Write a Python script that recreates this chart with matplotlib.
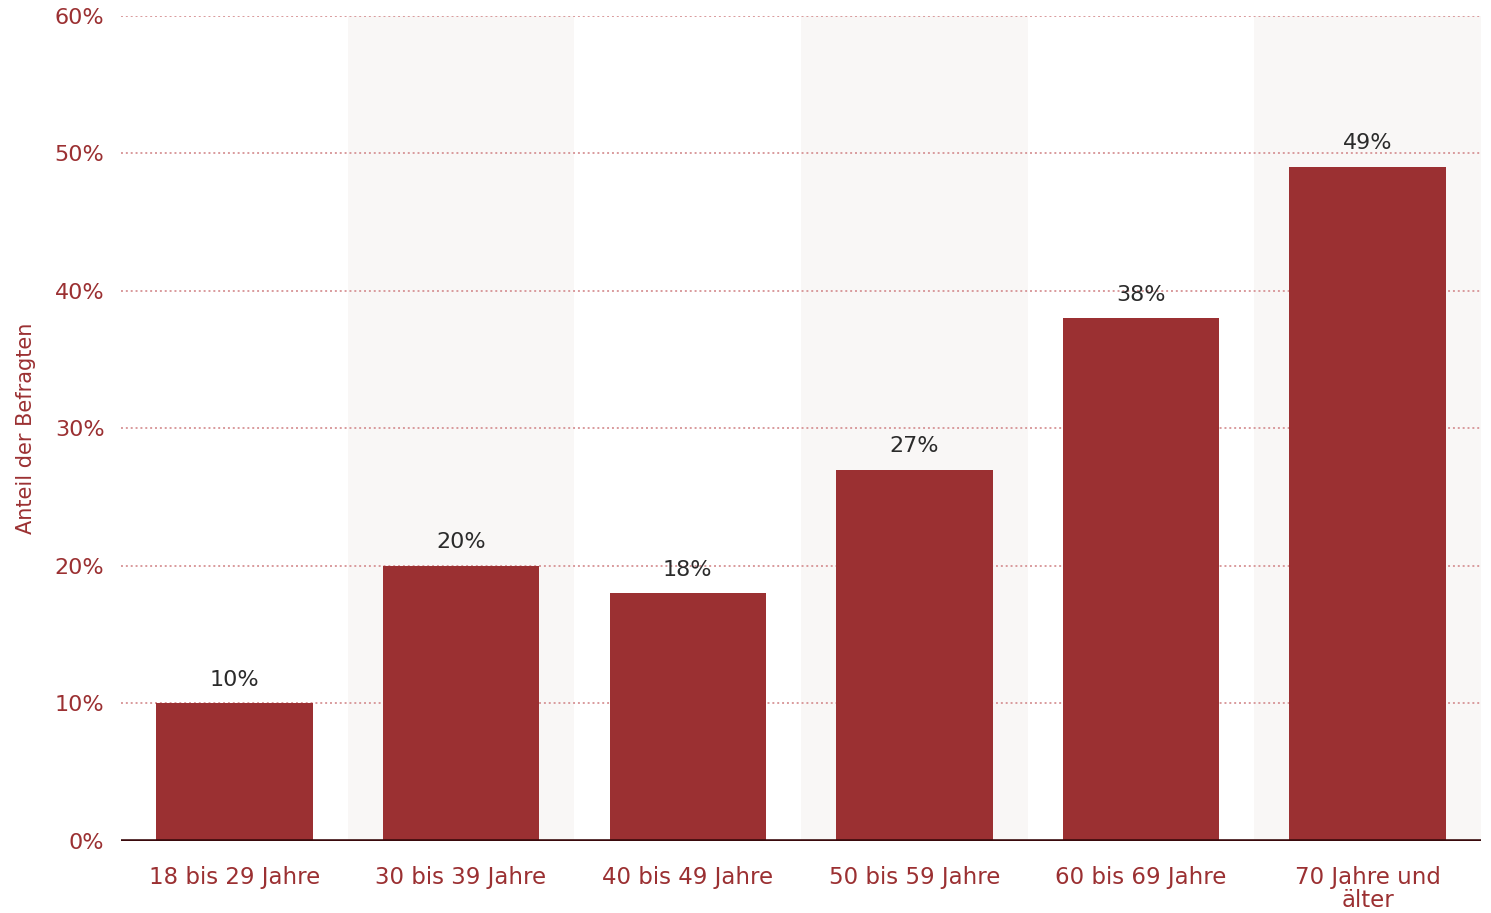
import matplotlib.pyplot as plt

categories = ["18 bis 29 Jahre", "30 bis 39 Jahre", "40 bis 49 Jahre",
              "50 bis 59 Jahre", "60 bis 69 Jahre", "70 Jahre und\nälter"]
values = [10, 20, 18, 27, 38, 49]
yticks = [0, 10, 20, 30, 40, 50, 60]

bar_color = "#9b3032"
text_red = "#9b3032"

fig = plt.figure(figsize=(14.91, 9.13), dpi=100)
ax = fig.add_axes([0.0812, 0.0789, 0.9121, 0.9036])

x = list(range(len(categories)))

# alternating background bands
for i in x:
    if i % 2 == 1:
        ax.axvspan(i - 0.5, i + 0.5, color="#f9f7f6", zorder=0, lw=0)

for y in yticks[1:]:
    ax.axhline(y, color="#d99a9c", lw=1.4, ls=(0, (1, 1.5)), zorder=1)

ax.bar(x, values, width=0.69, color=bar_color, zorder=2)
ax.axhline(0, color="#3a0a0c", lw=2.6, zorder=3)

for xi, v in zip(x, values):
    ax.text(xi, v + 1.0, f"{v}%", ha="center", va="bottom",
            fontsize=16, color="#2b2b2b", zorder=4)

ax.set_xlim(-0.5, len(categories) - 0.5)
ax.set_ylim(0, 60)
ax.set_yticks(yticks)
ax.set_yticklabels([f"{t}%" for t in yticks], fontsize=16, color=text_red)
ax.set_xticks(x)
ax.set_xticklabels(categories, fontsize=16.5, color=text_red, linespacing=1.0)
ax.tick_params(axis="x", length=0, pad=18)
ax.tick_params(axis="y", length=0, pad=12)
for s in ax.spines.values():
    s.set_visible(False)

ax.set_ylabel("Anteil der Befragten", fontsize=15, color=text_red)
ax.yaxis.set_label_coords(-0.0625, 0.5)

fig.savefig("out.png", dpi=100)
